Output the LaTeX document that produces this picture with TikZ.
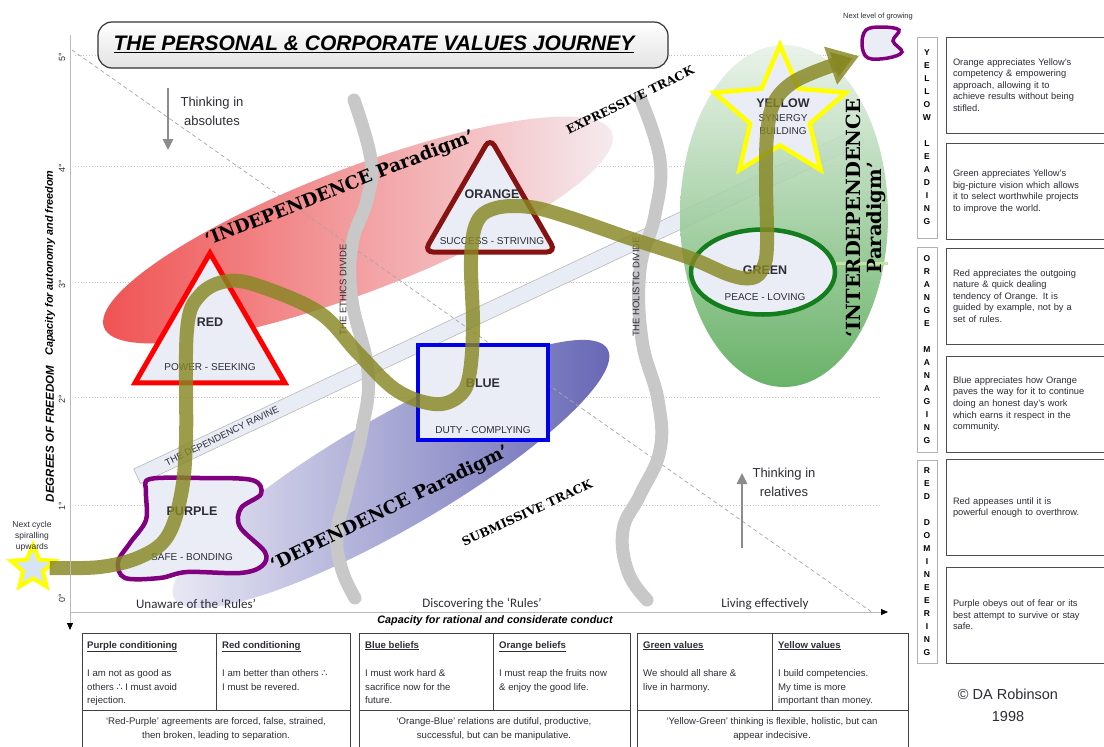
\documentclass[tikz,border=0pt]{standalone}
\usepackage{fontspec}
\setmainfont{Liberation Sans}
\newfontfamily\paraface{DejaVu Serif}
\newfontfamily\gillface{Carlito}
\newfontfamily\symface{DejaVu Sans}
\usetikzlibrary{shapes.geometric}
\usetikzlibrary{arrows.meta}
\usetikzlibrary{positioning}

\definecolor{paleshape}{RGB}{234,236,246}
\definecolor{labgray}{RGB}{45,45,55}
\definecolor{ravinefill}{RGB}{232,236,244}
\definecolor{dividegray}{RGB}{200,200,200}
\definecolor{olivepath}{RGB}{135,135,35}
\definecolor{redA}{RGB}{240,80,80}
\definecolor{redB}{RGB}{245,238,242}
\definecolor{blueA}{RGB}{236,236,246}
\definecolor{blueB}{RGB}{100,100,180}
\definecolor{greenA}{RGB}{232,242,232}
\definecolor{greenM}{RGB}{170,214,170}
\definecolor{greenB}{RGB}{85,168,85}
\definecolor{purpleline}{RGB}{128,0,128}
\definecolor{orangeline}{RGB}{135,18,18}
\definecolor{blueline}{RGB}{0,0,235}
\definecolor{greenline}{RGB}{20,125,30}
\definecolor{yellowline}{RGB}{255,255,0}

\tikzset{
	gridline/.style = {gray!45, dotted, line width=0.8pt},
	diagline/.style = {gray!70, dash pattern=on 4pt off 3pt, line width=0.7pt},
	axisline/.style = {gray!55, line width=0.8pt, -{Triangle[length=7pt,width=6pt,black]}},
	ravine/.style = {rectangle, draw=gray!55, fill=ravinefill, line width=0.6pt, inner sep=0pt},
	divide/.style = {line width=13pt, line cap=round, draw=dividegray},
	divtext/.style = {font=\fontsize{9.5}{11}\selectfont, text=labgray},
	valshape/.style = {fill=paleshape, line width=5pt, inner sep=0pt},% outline of a value stage
	valname/.style = {font=\fontsize{12.5}{14}\selectfont\bfseries, text=labgray},
	valtag/.style = {font=\fontsize{10}{12}\selectfont, text=labgray},
	journey/.style = {line width=14pt, draw=olivepath, draw opacity=.82,
		-{Triangle[length=30pt,width=38pt]}},
	paradigm/.style = {font=\paraface\bfseries\fontsize{18}{21}\selectfont, align=center},
	track/.style = {font=\paraface\bfseries\fontsize{12}{14}\selectfont},
	thinkarrow/.style = {line width=2.5pt, draw=gray!90, -{Triangle[length=11pt,width=10pt]}},
	thinktext/.style = {font=\fontsize{13}{19}\selectfont, align=center, text=labgray},
	stagetext/.style = {font=\gillface\fontsize{13}{15}\selectfont, text=labgray},
	axislabel/.style = {font=\fontsize{10.8}{12}\selectfont\bfseries\itshape},
	ticklab/.style = {font=\fontsize{9}{10}\selectfont, text=gray!40!black, rotate=90},
	colbox/.style = {rectangle, draw=gray!60, line width=1pt, minimum width=20pt,
		inner sep=0pt, align=center, font=\fontsize{8.5}{13}\selectfont\bfseries},
	notebox/.style = {rectangle, draw=gray!60!black, line width=1pt, text width=150pt,
		inner xsep=7pt, minimum height=96pt, align=left,
		font=\fontsize{9.3}{11.6}\selectfont, text=labgray},
	tabtext/.style = {anchor=north west, inner sep=0pt, align=left,
		font=\fontsize{9.6}{13.5}\selectfont, text=labgray},
	tabfoot/.style = {inner sep=0pt, align=center, font=\fontsize{9.6}{13.5}\selectfont, text=labgray},
	tabline/.style = {draw=gray!50!black, line width=1pt}
}

\begin{document}
\begin{tikzpicture}[x=1pt,y=1pt]
\useasboundingbox (0,0) rectangle (1104,-747);
\fill[white] (0,0) rectangle (1104,-747);

% grid of degrees
\foreach \gy in {55,166,282,397,505}
	\draw[gridline] (75,-\gy) -- (880,-\gy);

% dependency ravine
\node[ravine, rotate=25.2, minimum width=800pt, minimum height=16pt] (ravine) at (499,-306) {};

% paradigm ellipses
\shade[left color=redA, right color=redB, rotate around={21:(358,-230)}]
	(358,-230) ellipse [x radius=272pt, y radius=62pt];
\shade[left color=blueA, right color=blueB, rotate around={30:(391,-474)}]
	(391,-474) ellipse [x radius=250pt, y radius=56pt];
\shade[top color=greenA, middle color=greenM, bottom color=greenB, opacity=.88]
	(784,-216) ellipse [x radius=104pt, y radius=171pt];
\draw[line width=3pt, draw={rgb,255:red,200;green,226;blue,160}] (836,-263) -- (888,-263);

\node[divtext, rotate=25.9] (ravinetxt) at (222,-436) {THE DEPENDENCY RAVINE};

% thinking diagonal
\coordinate (diagA) at (72,-50);
\coordinate (diagB) at (873,-613);
\draw[diagline] (diagA) -- (diagB);

% the two divides
\draw[divide] plot[smooth, tension=.7] coordinates {(354,-100) (371,-160) (367,-200) (352,-245)
	(352,-300) (368,-372) (362,-430) (347,-490) (337,-535) (342,-570) (355,-598)};
\draw[divide] plot[smooth, tension=.7] coordinates {(641,-100) (660,-160) (655,-215) (640,-270)
	(642,-340) (658,-400) (660,-450) (640,-495) (623,-530) (628,-572) (647,-600)};
\node[divtext, rotate=90] (ethics) at (343,-290) {THE ETHICS DIVIDE};
\node[divtext, rotate=90] (holistic) at (636,-287) {THE HOLISTIC DIVIDE};

% value stages
\draw[valshape, draw=purpleline, line width=4.5pt] plot[smooth cycle, tension=.55] coordinates {
	(150,-479) (200,-478) (252,-480) (261,-494) (241,-508) (240,-527) (265,-552) (262,-566)
	(240,-573) (187,-572) (160,-578) (125,-578) (118,-562) (130,-543) (146,-520) (146,-492)};
\node[valname] (purple) at (192,-511) {PURPLE};
\node[valtag] (purpletag) at (192,-557) {SAFE - BONDING};

\node[valshape, draw=red, regular polygon, regular polygon sides=3, minimum size=173pt] (redtri) at (210,-339.6) {};
\node[valname] (redname) at (210,-322) {RED};
\node[valtag] (redtag) at (210,-367) {POWER - SEEKING};

\node[valshape, draw=orangeline, regular polygon, regular polygon sides=3, rounded corners=9pt,
	minimum size=152pt] (orangetri) at (490,-214) {};
\node[valname] (orangename) at (492,-194) {ORANGE};
\node[valtag] (orangetag) at (492,-241) {SUCCESS - STRIVING};

\node[valshape, draw=blueline, line width=4.5pt, rectangle, minimum width=130pt, minimum height=95pt] (bluebox) at (483,-392.5) {};
\node[valname] (bluename) at (483,-383) {BLUE};
\node[valtag] (bluetag) at (483,-430) {DUTY - COMPLYING};

\node[valshape, draw=greenline, line width=4.5pt, ellipse, minimum width=144pt, minimum height=85pt] (greenell) at (763,-272) {};
\node[valname] (greenname) at (765,-270) {GREEN};
\node[valtag] (greentag) at (765,-297) {PEACE - LOVING};

\node[valshape, draw=yellowline, line width=4.5pt, star, star points=5, star point ratio=2.2,
	minimum size=138pt] (yellowstar) at (780,-114) {};
\node[valname] (yellowname) at (783,-103) {YELLOW};
\node[valtag, align=center, font=\fontsize{10}{13}\selectfont] (yellowtag) at (783,-125) {SYNERGY\\BUILDING};

% spiral start and end
\node[star, star points=5, star point ratio=2.2, minimum size=46pt, draw=yellowline,
	line width=4pt, fill={rgb,255:red,215;green,228;blue,245}, inner sep=0pt] (startstar) at (33,-568) {};
\node[align=center, font=\fontsize{8.5}{11}\selectfont, text=labgray] (nextcycle) at (32,-536) {Next cycle\\spiralling\\upwards};
\coordinate (growtip) at (859,-56);

\draw[journey] plot[smooth, tension=.6] coordinates {(startstar.east) (100,-567) (140,-557)
	(167,-537) (181,-495) (186,-440) (187,-330) (200,-295) (228,-281) (262,-287) (320,-313)
	(358,-353) (396,-390) (434,-404) (458,-397) (469,-377) (473,-327) (471,-260) (477,-222)
	(496,-208) (530,-207) (568,-217) (626,-237) (690,-258) (730,-275) (752,-278) (763,-268)
	(767,-245) (766,-180) (767,-135) (773,-105) (788,-86) (812,-73) (growtip)};

\draw[valshape, draw=purpleline, line width=3.5pt] plot[smooth cycle, tension=.6] coordinates {
	(866,-30) (882,-27) (899,-30) (893,-41) (902,-52) (888,-58) (868,-58) (862,-45)};
\node[font=\fontsize{7.5}{9}\selectfont, text=labgray] (nextlevel) at (878,-17) {Next level of growing};

% title
\node[rectangle, rounded corners=14pt, top color=white, bottom color=gray!22, draw=gray!40!black,
	line width=1.2pt, minimum width=570pt, minimum height=46pt] (titlebox) at (383,-45) {};
\node[font=\fontsize{21}{25}\selectfont\bfseries\itshape] (title) at (374,-44)
	{\underline{THE PERSONAL \& CORPORATE VALUES JOURNEY}};

% thinking arrows
\coordinate (absA) at (168,-88);
\coordinate (absB) at (168,-150);
\draw[thinkarrow] (absA) -- (absB);
\node[thinktext] (absolutes) at (212,-111) {Thinking in\\absolutes};
\coordinate (relA) at (742,-548);
\coordinate (relB) at (742,-473);
\draw[thinkarrow] (relA) -- (relB);
\node[thinktext] (relatives) at (784,-482) {Thinking in\\relatives};

% paradigm and track names
\node[paradigm, rotate=21.5] (indep) at (340,-189) {‘INDEPENDENCE Paradigm’};
\node[paradigm, rotate=26.2] (dep) at (390,-509) {‘DEPENDENCE Paradigm’};
\node[paradigm, rotate=90, font=\paraface\bfseries\fontsize{19.5}{21}\selectfont] (interdep) at (866,-218) {‘INTERDEPENDENCE\\Paradigm’};
\node[track, rotate=25.9] (expressive) at (630,-100) {EXPRESSIVE TRACK};
\node[track, rotate=24.5] (submissive) at (527,-513) {SUBMISSIVE TRACK};

% axes
\coordinate (ytop) at (70,-35);
\coordinate (ybot) at (70,-630);
\coordinate (xleft) at (70,-612);
\coordinate (xright) at (888,-612);
\draw[axisline] (ytop) -- (ybot);
\draw[axisline] (xleft) -- (xright);
\foreach \gy/\deg in {598/0,506/1,399/2,284/3,168/4,57/5}
	\node[ticklab] at (62,-\gy) {\deg°};
\node[axislabel, rotate=90] (autonomy) at (50,-263) {Capacity for autonomy and freedom};
\node[axislabel, rotate=90, font=\fontsize{11.5}{12}\selectfont\bfseries\itshape] (degrees) at (50,-434) {DEGREES OF FREEDOM};
\node[axislabel] (rational) at (495,-621) {Capacity for rational and considerate conduct};
\node[stagetext] (unaware) at (196,-604) {Unaware of the ‘Rules’};
\node[stagetext] (discover) at (482,-604) {Discovering the ‘Rules’};
\node[stagetext] (living) at (765,-604) {Living effectively};

% leadership columns
\node[colbox, minimum height=201pt] (lead) at (927,-137.5) {Y\\E\\L\\L\\O\\W\\[13pt]L\\E\\A\\D\\I\\N\\G};
\node[colbox, minimum height=205pt] (manage) at (927,-349.5) {O\\R\\A\\N\\G\\E\\[13pt]M\\A\\N\\A\\G\\I\\N\\G};
\node[colbox, minimum height=203pt] (domin) at (927,-561.5) {R\\E\\D\\[13pt]D\\O\\M\\I\\N\\E\\E\\R\\I\\N\\G};

\node[notebox] (note1) at (1028,-85) {Orange appreciates Yellow’s\\competency \& empowering\\approach, allowing it to\\achieve results without being\\stifled.};
\node[notebox] (note2) at (1028,-191.5) {Green appreciates Yellow’s\\big-picture vision which allows\\it to select worthwhile projects\\to improve the world.};
\node[notebox] (note3) at (1028,-296) {Red appreciates the outgoing\\nature \& quick dealing\\tendency of Orange. It is\\guided by example, not by a\\set of rules.};
\node[notebox] (note4) at (1028,-404) {Blue appreciates how Orange\\paves the way for it to continue\\doing an honest day’s work\\which earns it respect in the\\community.};
\node[notebox] (note5) at (1028,-507.5) {Red appeases until it is\\powerful enough to overthrow.};
\node[notebox] (note6) at (1028,-615) {Purple obeys out of fear or its\\best attempt to survive or stay\\safe.};

% belief tables
\foreach \tl/\tm/\tr in {82/216/350, 359/493/630, 637/772/908} {
	\draw[tabline] (\tl,-752) -- (\tl,-633) -- (\tr,-633) -- (\tr,-752);
	\draw[tabline] (\tl,-710) -- (\tr,-710);
	\draw[tabline] (\tm,-633) -- (\tm,-710);
}
\node[tabtext] (purplecond) at (87,-641) {\underline{\textbf{Purple conditioning}}\\[15pt]I am not as good as\\others {\symface∴} I must avoid\\rejection.};
\node[tabtext] (redcond) at (222,-641) {\underline{\textbf{Red conditioning}}\\[15pt]I am better than others {\symface∴}\\I must be revered.};
\node[tabfoot] (redpurple) at (216,-729) {‘Red-Purple’ agreements are forced, false, strained,\\then broken, leading to separation.};
\node[tabtext] (bluebel) at (365,-641) {\underline{\textbf{Blue beliefs}}\\[15pt]I must work hard \&\\sacrifice now for the\\future.};
\node[tabtext] (orangebel) at (499,-641) {\underline{\textbf{Orange beliefs}}\\[15pt]I must reap the fruits now\\\& enjoy the good life.};
\node[tabfoot] (orangeblue) at (494,-729) {‘Orange-Blue’ relations are dutiful, productive,\\successful, but can be manipulative.};
\node[tabtext] (greenval) at (643,-641) {\underline{\textbf{Green values}}\\[15pt]We should all share \&\\live in harmony.};
\node[tabtext] (yellowval) at (778,-641) {\underline{\textbf{Yellow values}}\\[15pt]I build competencies.\\My time is more\\important than money.};
\node[tabfoot] (yellowgreen) at (772,-729) {‘Yellow-Green’ thinking is flexible, holistic, but can\\appear indecisive.};

\node[align=center, font=\fontsize{14.5}{22}\selectfont, text=labgray] (credit) at (1008,-705) {© DA Robinson\\1998};
\end{tikzpicture}
\end{document}
